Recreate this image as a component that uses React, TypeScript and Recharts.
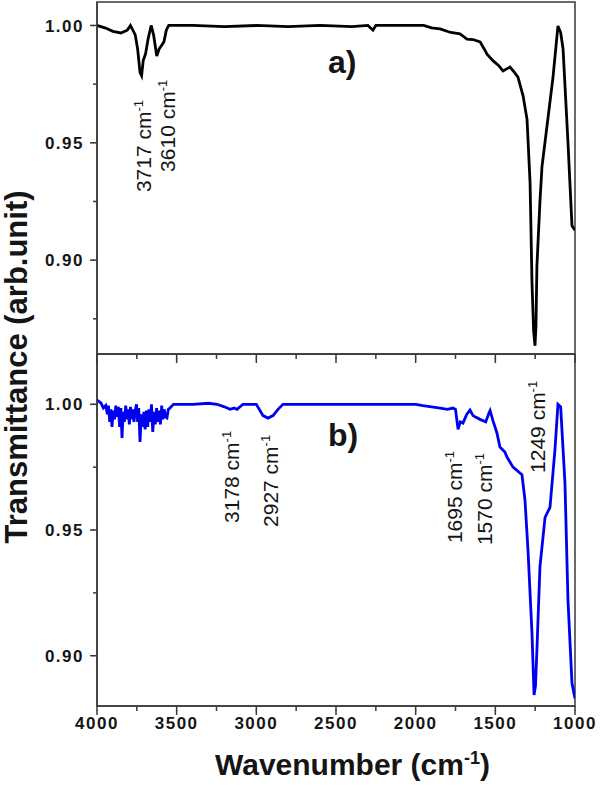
import { LineChart, Line, XAxis, YAxis, ReferenceArea, ReferenceDot } from "recharts";

// spectrum a) — black trace
const wavenumberA = [
  4000, 3950, 3900, 3850, 3810, 3790, 3760, 3745, 3730, 3720, 3710, 3695, 3680, 3660, 3645, 3625,
  3610, 3595, 3580, 3565, 3550, 3400, 3200, 3000, 2800, 2600, 2400, 2300, 2268, 2250, 2100, 1950,
  1900, 1847, 1780, 1722, 1678, 1640, 1596, 1570, 1552, 1515, 1480, 1452, 1408, 1380, 1358, 1326,
  1301, 1282, 1270, 1260, 1251, 1245, 1239, 1220, 1207, 1176, 1138, 1107, 1090, 1075, 1044, 1019, 1000,
];
const transmittanceA = [
  1.0, 0.999, 0.9975, 0.9968, 0.998, 1.0, 0.996, 0.99, 0.98, 0.9786, 0.985, 0.988, 0.994, 1.0, 0.996, 0.987,
  0.99, 0.9915, 0.993, 0.998, 1.0, 1.0, 0.9995, 1.0, 0.9995, 1.0, 0.9995, 1.0, 0.998, 1.0, 1.0, 1.0,
  0.999, 0.9985, 0.997, 0.9964, 0.9942, 0.994, 0.993, 0.99, 0.9878, 0.985, 0.983, 0.9806, 0.9823, 0.98, 0.978, 0.97,
  0.96, 0.933, 0.8907, 0.87, 0.8635, 0.872, 0.8975, 0.925, 0.94, 0.957, 0.978, 0.9998, 0.997, 0.99, 0.95, 0.9146, 0.9127,
];

// spectrum b) — blue trace
const wavenumberB = [
  4000, 3975, 3960, 3945, 3935, 3928, 3920, 3912, 3906, 3898, 3890, 3882, 3874, 3866, 3858, 3850,
  3843, 3836, 3828, 3820, 3812, 3805, 3797, 3790, 3782, 3775, 3768, 3760, 3752, 3745, 3738, 3730,
  3722, 3714, 3706, 3698, 3690, 3682, 3674, 3666, 3658, 3650, 3642, 3634, 3626, 3618, 3610, 3602,
  3594, 3586, 3578, 3570, 3561, 3552, 3542, 3520, 3498, 3400, 3300, 3247, 3200, 3165, 3140, 3121,
  3084, 3000, 2958, 2927, 2895, 2864, 2833, 2500, 2000, 1954, 1900, 1847, 1800, 1766, 1750, 1734,
  1720, 1703, 1680, 1659, 1640, 1627, 1596, 1560, 1540, 1533, 1515, 1490, 1471, 1440, 1427, 1389,
  1333, 1314, 1295, 1270, 1257, 1248, 1239, 1220, 1188, 1157, 1126, 1107, 1090, 1063, 1044, 1019, 1000,
];
const transmittanceB = [
  1.0017, 1.0005, 0.9985, 0.9995, 0.996, 0.9995, 0.993, 0.998, 0.991, 0.9975, 0.994, 0.9995, 0.995, 0.999, 0.991, 0.9985,
  0.9866, 0.997, 0.993, 0.9995, 0.994, 0.998, 0.992, 0.999, 0.994, 0.998, 0.993, 0.9975, 1.0, 0.993, 0.9985, 0.985,
  0.996, 0.991, 0.997, 0.99, 0.9975, 0.991, 0.998, 0.993, 1.0, 0.989, 0.997, 0.992, 0.9985, 0.993, 0.9975, 0.992,
  0.9995, 0.994, 0.998, 0.995, 0.9946, 0.998, 0.9985, 1.0, 1.0, 1.0, 1.0004, 1.0, 0.999, 0.998, 0.9985, 0.998,
  1.0, 1.0, 0.9955, 0.9945, 0.9955, 0.998, 1.0, 1.0, 1.0, 0.9995, 0.999, 0.9985, 0.998, 0.9985, 0.998, 0.99,
  0.993, 0.9925, 0.996, 0.9977, 0.9955, 0.995, 0.994, 0.993, 0.9965, 0.9975, 0.9935, 0.9886, 0.983, 0.981, 0.979, 0.975,
  0.972, 0.962, 0.942, 0.909, 0.8844, 0.888, 0.9023, 0.9353, 0.955, 0.959, 0.9818, 1.0, 0.999, 0.9687, 0.922, 0.889, 0.883,
];

const xMajorTicks = [4000, 3500, 3000, 2500, 2000, 1500, 1000];
const xMinorTicks = [3750, 3250, 2750, 2250, 1750, 1250];
const yMajorTicks = [0.9, 0.95, 1.0];
const yMinorTicksA = [0.875, 0.925, 0.975];
const yMinorTicksB = [0.925, 0.975];

// peak labels, anchored at the lower end of the rotated text
const peaksA = [
  { label: "3717", wavenumber: 3661, transmittance: 0.929 },
  { label: "3610", wavenumber: 3510, transmittance: 0.9376 },
];
const peaksB = [
  { label: "3178", wavenumber: 3109, transmittance: 0.9528 },
  { label: "2927", wavenumber: 2864, transmittance: 0.9512 },
  { label: "1695", wavenumber: 1709, transmittance: 0.9448 },
  { label: "1570", wavenumber: 1521, transmittance: 0.944 },
  { label: "1249", wavenumber: 1188, transmittance: 0.9727 },
];

const AXIS = "#3a3a3a";
const INK = "#151515";
const FONT = "'Liberation Sans', Arial, sans-serif";
const X_MINOR = 5; // built-in tick length, majors get extended in the tick renderer
const Y_MINOR = 4;

const rowsA = wavenumberA.map((w, i) => ({ w, t: transmittanceA[i] }));
const rowsB = wavenumberB.map((w, i) => ({ w, t: transmittanceB[i] }));

function makeXTick(withLabels: boolean) {
  return function XTick(props: any) {
    const { x, y, payload } = props;
    const major = xMajorTicks.includes(payload.value);
    return (
      <g>
        {major && <path d={`M${x},${y - 1}V${y + 4}`} stroke={AXIS} strokeWidth={1.5} fill="none" />}
        {withLabels && major && (
          <text
            x={x}
            y={y + 18}
            textAnchor="middle"
            fontFamily={FONT}
            fontWeight="bold"
            fontSize={17}
            letterSpacing={1.5}
            fill={INK}
          >
            {payload.value}
          </text>
        )}
      </g>
    );
  };
}

function YTick(props: any) {
  const { x, y, payload } = props;
  const major = yMajorTicks.includes(payload.value);
  return (
    <g>
      {major && <path d={`M${x + 1},${y}H${x - 3}`} stroke={AXIS} strokeWidth={1.5} fill="none" />}
      {major && (
        <text
          x={x - 9}
          y={y}
          dy="0.36em"
          textAnchor="end"
          fontFamily={FONT}
          fontWeight="bold"
          fontSize={17}
          letterSpacing={1.5}
          fill={INK}
        >
          {payload.value.toFixed(2)}
        </text>
      )}
    </g>
  );
}

const peakText = (label: string) => (p: any) => (
  <text transform={`translate(${p.cx},${p.cy}) rotate(-90)`} fontFamily={FONT} fontSize={21} fill={INK}>
    {label} cm
    <tspan dy={-8} fontSize={13}>
      -1
    </tspan>
  </text>
);

const panelText = (label: string) => (p: any) => (
  <text x={p.cx} y={p.cy} fontFamily={FONT} fontWeight="bold" fontSize={32} fill={INK}>
    {label}
  </text>
);

interface PanelProps {
  rows: { w: number; t: number }[];
  color: string;
  domain: [number, number];
  minorY: number[];
  peaks: { label: string; wavenumber: number; transmittance: number }[];
  tag: string;
  tagAt: [number, number];
  height: number;
  top: number;
  axisHeight: number;
  withLabels: boolean;
}

function Panel({ rows, color, domain, minorY, peaks, tag, tagAt, height, top, axisHeight, withLabels }: PanelProps) {
  return (
    <LineChart width={600} height={height} data={rows} margin={{ top, right: 25, bottom: 0, left: 0 }}>
      <XAxis
        dataKey="w"
        type="number"
        domain={[1000, 4000]}
        reversed
        ticks={[...xMajorTicks, ...xMinorTicks]}
        interval={0}
        tickSize={X_MINOR}
        tickMargin={0}
        tickLine={{ stroke: AXIS, strokeWidth: 1.5 }}
        tick={makeXTick(withLabels)}
        axisLine={{ stroke: AXIS, strokeWidth: 1.5 }}
        height={axisHeight}
        allowDataOverflow
      />
      <YAxis
        type="number"
        domain={domain}
        ticks={[...yMajorTicks, ...minorY]}
        interval={0}
        tickSize={Y_MINOR}
        tickMargin={0}
        tickLine={{ stroke: AXIS, strokeWidth: 1.5 }}
        tick={YTick}
        axisLine={{ stroke: AXIS, strokeWidth: 1.5 }}
        width={97}
        allowDataOverflow
      />
      <ReferenceArea
        x1={1000}
        x2={4000}
        y1={domain[0]}
        y2={domain[1]}
        fill="none"
        stroke={AXIS}
        strokeWidth={1.5}
      />
      <Line
        type="linear"
        dataKey="t"
        stroke={color}
        strokeWidth={2.8}
        dot={false}
        isAnimationActive={false}
      />
      {peaks.map((pk) => (
        <ReferenceDot
          key={pk.label}
          x={pk.wavenumber}
          y={pk.transmittance}
          r={0}
          shape={peakText(pk.label)}
        />
      ))}
      <ReferenceDot x={tagAt[0]} y={tagAt[1]} r={0} shape={panelText(tag)} />
    </LineChart>
  );
}

export default function App() {
  return (
    <div style={{ position: "absolute", left: 0, top: 0, width: 600, height: 785, background: "#fff" }}>
      <div style={{ position: "absolute", left: 0, top: 0 }}>
        <Panel
          rows={rowsA}
          color="#000000"
          domain={[0.86, 1.01]}
          minorY={yMinorTicksA}
          peaks={peaksA}
          tag="a)"
          tagAt={[2550, 0.9797]}
          height={364}
          top={2}
          axisHeight={10}
          withLabels={false}
        />
      </div>
      <div style={{ position: "absolute", left: 0, top: 354 }}>
        <Panel
          rows={rowsB}
          color="#0000f0"
          domain={[0.88, 1.02]}
          minorY={yMinorTicksB}
          peaks={peaksB}
          tag="b)"
          tagAt={[2550, 0.9834]}
          height={431}
          top={0}
          axisHeight={79}
          withLabels={true}
        />
      </div>
      <svg
        width={600}
        height={785}
        style={{ position: "absolute", left: 0, top: 0, pointerEvents: "none" }}
      >
        <text
          transform="translate(27,367) rotate(-90)"
          textAnchor="middle"
          fontFamily={FONT}
          fontWeight="bold"
          fontSize={31}
          fill={INK}
        >
          Transmittance (arb.unit)
        </text>
        <text x={215} y={775} fontFamily={FONT} fontWeight="bold" fontSize={30} fill={INK}>
          Wavenumber (cm
          <tspan dy={-11} fontSize={18}>
            -1
          </tspan>
          <tspan dy={11}>)</tspan>
        </text>
      </svg>
    </div>
  );
}
